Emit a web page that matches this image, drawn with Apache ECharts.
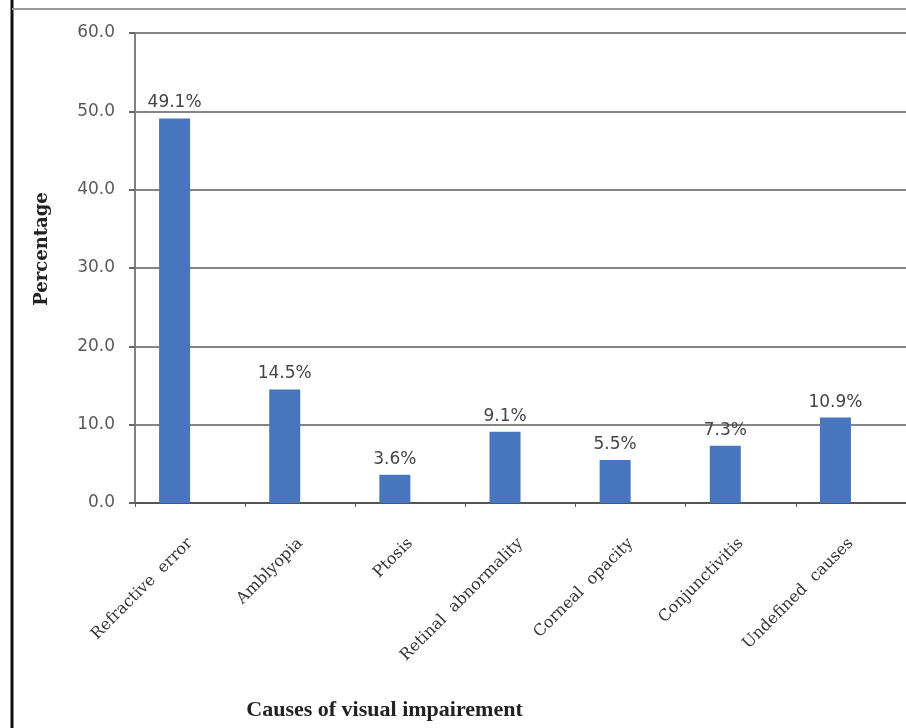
<!DOCTYPE html>
<html>
<head>
<meta charset="utf-8">
<script src="https://cdn.jsdelivr.net/npm/echarts@6/dist/echarts.min.js"></script>
<style>
  html, body { margin: 0; padding: 0; background: #fff; }
  #chart { width: 906px; height: 728px; }
</style>
</head>
<body>
<div id="chart"></div>
<script>
// categories and values
const causes = ['Refractive  error', 'Amblyopia', 'Ptosis', 'Retinal  abnormality', 'Corneal  opacity', 'Conjunctivitis', 'Undefined  causes'];
const percentages = [49.1, 14.5, 3.6, 9.1, 5.5, 7.3, 10.9];
const yTicks = { min: 0, max: 60, interval: 10 };

const myChart = echarts.init(document.getElementById('chart'));

const option = {
  animation: false,
  backgroundColor: '#fff',
  // frame round the picture
  graphic: [
    { type: 'line', shape: { x1: 12, y1: 0, x2: 12, y2: 728 }, style: { stroke: '#111', lineWidth: 3 } },
    { type: 'line', shape: { x1: 12, y1: 9, x2: 906, y2: 9 }, style: { stroke: '#999', lineWidth: 2 } }
  ],
  grid: { left: 135, top: 33, width: 779, height: 470 },
  xAxis: {
    type: 'category',
    data: causes,
    name: 'Causes of visual impairement',
    nameLocation: 'middle',
    nameGap: 196,
    nameTextStyle: {
      fontFamily: 'Liberation Serif', fontWeight: 'bold', fontSize: 22, color: '#222',
      padding: [0, 272, 0, 0]
    },
    axisLine: { lineStyle: { color: '#555', width: 2 } },
    axisTick: { show: true, length: 4, lineStyle: { color: '#555' } },
    axisLabel: {
      rotate: 45,
      interval: 0,
      margin: 38,
      fontFamily: 'DejaVu Serif',
      fontSize: 16,
      color: '#333'
    }
  },
  yAxis: {
    type: 'value',
    min: yTicks.min,
    max: yTicks.max,
    interval: yTicks.interval,
    name: 'Percentage',
    nameLocation: 'middle',
    nameGap: 84,
    nameRotate: 90,
    nameTextStyle: {
      fontFamily: 'DejaVu Serif', fontWeight: 'bold', fontSize: 18, color: '#222',
      padding: [0, 0, 0, 38]
    },
    axisLine: { show: true, lineStyle: { color: '#808080', width: 2 } },
    axisTick: { show: true, length: 6, lineStyle: { color: '#666', width: 2 } },
    axisLabel: {
      margin: 20,
      fontFamily: 'DejaVu Sans',
      fontSize: 17,
      color: '#5a5a5a',
      formatter: v => v.toFixed(1)
    },
    splitLine: { lineStyle: { color: '#858585', width: 2 } }
  },
  series: [
    {
      type: 'bar',
      data: percentages,
      barWidth: 31,
      barGap: '0%',
      itemStyle: { color: '#4776bf' },
      label: {
        show: true,
        position: 'top',
        distance: 7,
        fontFamily: 'DejaVu Sans',
        fontSize: 17,
        color: '#444',
        formatter: p => p.value.toFixed(1) + '%'
      }
    },
    {
      // empty second series, keeps the bars left of the band centre like the original
      type: 'bar',
      data: [],
      barWidth: 31
    }
  ]
};

myChart.setOption(option);
window.addEventListener('resize', () => {
  myChart.resize();
});
</script>
</body>
</html>
